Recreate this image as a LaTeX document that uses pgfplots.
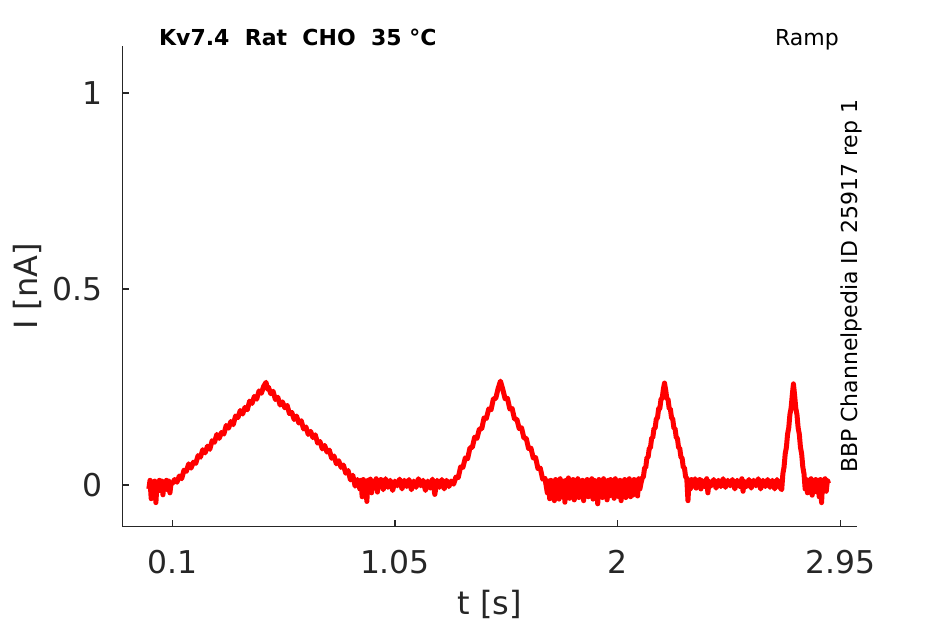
\documentclass[border=0pt]{standalone}
\usepackage{fontspec}
\setmainfont{DejaVu Sans}
\usepackage{pgfplots}
\pgfplotsset{compat=1.18}
\definecolor{axgray}{HTML}{262626}
\begin{document}
\begin{tikzpicture}
\useasboundingbox (-61.15pt,-48.65pt) rectangle (411.35pt,263.35pt);
\begin{axis}[
  at={(0,0)}, anchor=south west,
  scale only axis, width=367.2pt, height=240.35pt,
  xmin=-0.1133, xmax=3.02, ymin=-0.1064, ymax=1.12,
  axis x line*=bottom, axis y line*=left,
  axis line style={axgray, line width=0.55pt},
  tick align=inside, major tick length=3.5pt,
  every tick/.style={axgray, line width=0.55pt},
  xtick={0.1,1.05,2,2.95}, xticklabels={0.1,1.05,2,2.95},
  ytick={0,0.5,1}, yticklabels={0,0.5,1},
  /pgf/number format/assume math mode=true,
  tick label style={font=\fontsize{15.7}{18}\selectfont, text=axgray},
  xticklabel style={anchor=base, yshift=-23.3pt},
  yticklabel style={anchor=east, inner sep=0pt, xshift=-9.5pt},
  xlabel={t [s]}, ylabel={I [nA]},
  label style={font=\fontsize{16}{19}\selectfont, text=axgray},
  xlabel style={at={(axis description cs:0.5,-0.1836)}, anchor=base},
  ylabel style={at={(axis description cs:-0.1158,0.5)}, anchor=base, rotate=0},
  clip=false,
]
\addplot[color={rgb,255:red,255;green,0;blue,0}, line width=2.5pt, line join=round] coordinates {
(0.000,-0.010) (0.005,0.012) (0.010,-0.035) (0.015,0.008) (0.020,-0.020) (0.025,0.010) (0.030,-0.045) (0.035,0.006) (0.040,-0.015) (0.045,0.012) (0.050,-0.008) (0.055,0.010) (0.060,-0.025) (0.065,0.008) (0.070,0.000) (0.075,0.012) (0.080,-0.012) (0.085,0.010) (0.090,-0.020) (0.095,0.006) (0.100,0.004)
(0.11,0.014) (0.12,0.007) (0.13,0.023) (0.14,0.016) (0.15,0.038) (0.16,0.035) (0.17,0.054) (0.18,0.043) (0.19,0.058) (0.20,0.055) (0.21,0.075) (0.22,0.071) (0.23,0.090) (0.24,0.082) (0.25,0.099) (0.26,0.091) (0.27,0.113) (0.28,0.109) (0.29,0.129) (0.30,0.119) (0.31,0.134) (0.32,0.130) (0.33,0.152) (0.34,0.145) (0.35,0.162) (0.36,0.154) (0.37,0.176) (0.38,0.172) (0.39,0.190) (0.40,0.181) (0.41,0.198) (0.42,0.192) (0.43,0.214) (0.44,0.208) (0.45,0.226) (0.46,0.219) (0.47,0.240) (0.48,0.234) (0.49,0.252) (0.50,0.262) (0.505,0.245)
(0.51,0.250) (0.52,0.233) (0.53,0.239) (0.54,0.218) (0.55,0.224) (0.56,0.204) (0.57,0.212) (0.58,0.197) (0.59,0.203) (0.60,0.182) (0.61,0.185) (0.62,0.167) (0.63,0.176) (0.64,0.158) (0.65,0.164) (0.66,0.143) (0.67,0.148) (0.68,0.129) (0.69,0.137) (0.70,0.121) (0.71,0.128) (0.72,0.107) (0.73,0.111) (0.74,0.092) (0.75,0.101) (0.76,0.084) (0.77,0.089) (0.78,0.068) (0.79,0.074) (0.80,0.054) (0.81,0.062) (0.82,0.045) (0.83,0.051) (0.84,0.030) (0.85,0.037) (0.86,0.013) (0.87,0.025) (0.88,-0.003) (0.89,0.014) (0.90,-0.010)
(0.905,0.012) (0.91,-0.030) (0.915,0.014) (0.92,-0.012) (0.925,0.010) (0.93,-0.042) (0.935,0.012) (0.94,-0.008) (0.945,0.015) (0.95,-0.020) (0.955,0.010) (0.96,-0.006) (0.97,0.016) (0.975,-0.018) (0.98,0.010) (0.985,-0.004) (0.99,0.014) (1.00,-0.012) (1.01,0.016) (1.02,-0.006) (1.03,0.012) (1.04,-0.014) (1.05,0.010) (1.06,-0.002) (1.07,0.015) (1.08,-0.010) (1.09,0.012) (1.10,-0.004) (1.11,0.014) (1.12,-0.012) (1.13,0.010) (1.14,-0.006) (1.15,0.016) (1.16,-0.002) (1.17,0.012) (1.18,-0.014) (1.19,0.010) (1.20,-0.008) (1.21,0.015) (1.22,-0.024) (1.23,0.012) (1.24,-0.006) (1.25,0.014) (1.26,-0.010) (1.27,0.012) (1.28,-0.004) (1.29,0.010) (1.30,0.002)
(1.31,0.020) (1.32,0.019) (1.33,0.046) (1.34,0.045) (1.35,0.069) (1.36,0.067) (1.37,0.095) (1.38,0.096) (1.39,0.122) (1.40,0.119) (1.41,0.143) (1.42,0.143) (1.43,0.171) (1.44,0.170) (1.45,0.194) (1.46,0.192) (1.47,0.220) (1.48,0.221) (1.49,0.246) (1.50,0.265)
(1.51,0.244) (1.52,0.220) (1.53,0.221) (1.54,0.194) (1.55,0.195) (1.56,0.168) (1.57,0.168) (1.58,0.144) (1.59,0.146) (1.60,0.120) (1.61,0.119) (1.62,0.093) (1.63,0.094) (1.64,0.069) (1.65,0.070) (1.66,0.042) (1.67,0.043) (1.68,0.015) (1.69,0.017) (1.70,-0.020)
(1.705,0.010) (1.71,-0.035) (1.715,0.012) (1.72,-0.028) (1.725,0.006) (1.73,-0.040) (1.735,0.014) (1.74,-0.022) (1.745,0.008) (1.75,-0.036) (1.755,0.016) (1.76,-0.030) (1.77,0.010) (1.775,-0.044) (1.78,0.012) (1.785,-0.020) (1.79,0.018) (1.795,-0.034) (1.80,0.006) (1.805,-0.026) (1.81,0.014) (1.815,-0.038) (1.82,0.010) (1.825,-0.018) (1.83,0.016) (1.835,-0.032) (1.84,0.004) (1.845,-0.024) (1.85,0.012) (1.855,-0.040) (1.86,0.010) (1.865,-0.028) (1.87,0.014) (1.875,-0.030) (1.88,0.008) (1.885,-0.022) (1.89,0.016) (1.895,-0.036) (1.90,0.012) (1.905,-0.026) (1.91,0.006) (1.915,-0.048) (1.92,0.014) (1.925,-0.024) (1.93,0.010) (1.935,-0.032) (1.94,0.016) (1.945,-0.020) (1.95,0.008) (1.955,-0.038) (1.96,0.012) (1.965,-0.028) (1.97,0.014) (1.975,-0.022) (1.98,0.010) (1.985,-0.034) (1.99,0.016) (1.995,-0.026) (2.00,0.008) (2.005,-0.030) (2.01,0.012) (2.015,-0.040) (2.02,0.010) (2.025,-0.024) (2.03,0.014) (2.035,-0.032) (2.04,0.006) (2.045,-0.020) (2.05,0.016) (2.055,-0.030) (2.06,0.010) (2.065,-0.026) (2.07,0.014) (2.075,-0.018) (2.08,0.012) (2.085,-0.028) (2.09,0.016) (2.095,-0.010) (2.10,0.006)
(2.105,0.018) (2.11,0.021) (2.115,0.044) (2.12,0.045) (2.125,0.070) (2.13,0.071) (2.135,0.094) (2.14,0.095) (2.145,0.120) (2.15,0.121) (2.155,0.144) (2.16,0.145) (2.165,0.169) (2.17,0.171) (2.175,0.195) (2.18,0.195) (2.185,0.219) (2.19,0.221) (2.195,0.244) (2.20,0.260)
(2.205,0.242) (2.21,0.220) (2.215,0.219) (2.22,0.195) (2.225,0.194) (2.23,0.171) (2.235,0.169) (2.24,0.145) (2.245,0.144) (2.25,0.121) (2.255,0.119) (2.26,0.095) (2.265,0.094) (2.27,0.071) (2.275,0.069) (2.28,0.045) (2.285,0.044) (2.29,0.021) (2.295,0.017) (2.30,-0.040)
(2.305,0.012) (2.31,-0.010) (2.315,0.014) (2.32,-0.004) (2.33,0.016) (2.335,-0.008) (2.34,0.012) (2.345,-0.002) (2.35,0.014) (2.355,-0.010) (2.36,0.012) (2.37,-0.004) (2.38,0.016) (2.385,-0.020) (2.39,0.010) (2.40,-0.002) (2.41,0.014) (2.42,-0.008) (2.43,0.012) (2.44,-0.004) (2.45,0.016) (2.46,-0.006) (2.47,0.012) (2.48,-0.002) (2.49,0.014) (2.50,-0.010) (2.51,0.012) (2.52,-0.004) (2.53,0.016) (2.535,-0.016) (2.54,0.010) (2.55,-0.004) (2.56,0.014) (2.57,-0.008) (2.58,0.012) (2.59,-0.002) (2.60,0.016) (2.61,-0.010) (2.62,0.012) (2.63,-0.004) (2.64,0.014) (2.65,-0.006) (2.66,0.012) (2.67,-0.010) (2.68,0.014) (2.69,-0.004) (2.70,-0.012)
(2.705,0.029) (2.71,0.046) (2.715,0.080) (2.72,0.096) (2.725,0.130) (2.73,0.146) (2.735,0.180) (2.74,0.196) (2.745,0.229) (2.75,0.258)
(2.755,0.229) (2.76,0.196) (2.765,0.180) (2.77,0.146) (2.775,0.130) (2.78,0.096) (2.785,0.080) (2.79,0.046) (2.795,0.029) (2.80,-0.010)
(2.805,0.014) (2.81,-0.020) (2.815,0.012) (2.82,-0.008) (2.825,0.016) (2.83,-0.026) (2.835,0.010) (2.84,-0.004) (2.845,0.014) (2.85,-0.018) (2.855,0.012) (2.86,-0.030) (2.865,0.014) (2.87,-0.045) (2.875,0.012) (2.88,-0.010) (2.885,0.016) (2.89,-0.016) (2.895,0.012) (2.90,0.004)
};
\node[anchor=base, font=\fontsize{11}{13}\selectfont\bfseries] at (rel axis cs:0.239,1) {Kv7.4\ \ Rat\ \ CHO\ \ 35 °C};
\node[anchor=base, font=\fontsize{11}{13}\selectfont] at (rel axis cs:0.9323,1) {Ramp};
\node[anchor=base, rotate=90, font=\fontsize{11}{13}\selectfont] at (rel axis cs:1.0005,0.5) {BBP Channelpedia ID 25917 rep 1};
\end{axis}
\end{tikzpicture}
\end{document}
